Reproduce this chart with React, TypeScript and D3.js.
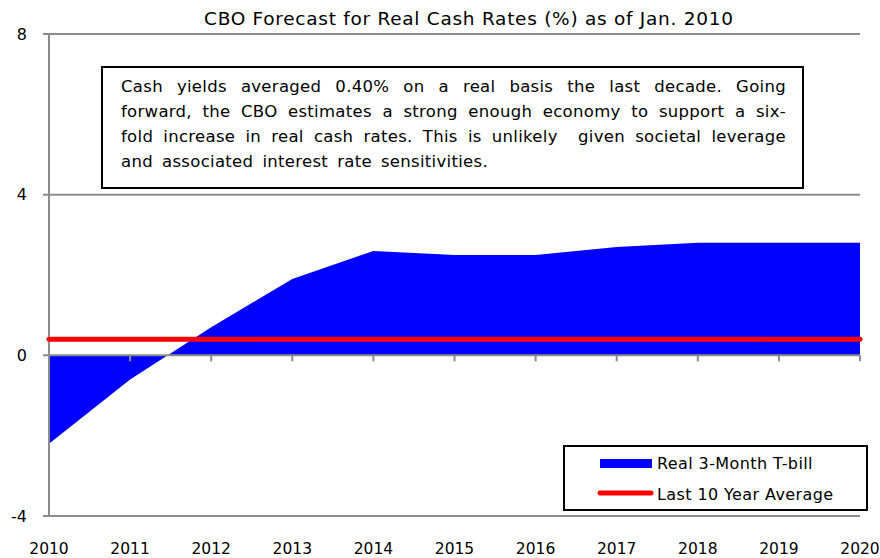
// @ts-nocheck
import React, { useEffect, useRef } from "react";
import * as d3 from "d3";

const years = ["2010", "2011", "2012", "2013", "2014", "2015", "2016", "2017", "2018", "2019", "2020"];
const tbill = [-2.2, -0.6, 0.7, 1.9, 2.6, 2.5, 2.5, 2.7, 2.8, 2.8, 2.8];
const tenYearAvg = [0.4, 0.4, 0.4, 0.4, 0.4, 0.4, 0.4, 0.4, 0.4, 0.4, 0.4];
const yTicks = [-4, 0, 4, 8];
const title = "CBO Forecast for Real Cash Rates (%) as of Jan. 2010";
const noteLines = [
  "Cash yields averaged 0.40% on a real basis the last decade. Going",
  "forward, the CBO estimates a strong enough economy to support a six-",
  "fold increase in real cash rates. This is unlikely  given societal leverage",
  "and associated interest rate sensitivities.",
];
const legendItems = ["Real 3-Month T-bill", "Last 10 Year Average"];

const FONT = "'DejaVu Sans', sans-serif";

function App() {
  const ref = useRef(null);

  useEffect(() => {
    const width = 880,
      height = 558;
    const margin = { top: 34, right: 20, bottom: 42, left: 49 };

    const svg = d3.select(ref.current);
    svg.selectAll("*").remove();

    const x = d3.scalePoint().domain(years).range([margin.left, width - margin.right]);
    const y = d3.scaleLinear().domain([-4, 8]).range([height - margin.bottom, margin.top]);

    const gray = "#8c8c8c";

    // title
    svg
      .append("text")
      .attr("x", 468.5)
      .attr("y", 25)
      .attr("text-anchor", "middle")
      .attr("textLength", 529)
      .attr("lengthAdjust", "spacing")
      .style("font-family", FONT)
      .style("font-size", "18.5px")
      .attr("fill", "#000")
      .text(title);

    // area
    const area = d3
      .area()
      .x((d, i) => x(years[i]))
      .y0(y(0))
      .y1((d) => y(d));
    svg.append("path").datum(tbill).attr("d", area).attr("fill", "#0000ff");

    // gridlines / horizontal axes
    svg
      .selectAll(".grid")
      .data(yTicks)
      .enter()
      .append("line")
      .attr("x1", margin.left - 6)
      .attr("x2", width - margin.right)
      .attr("y1", (d) => y(d))
      .attr("y2", (d) => y(d))
      .attr("stroke", gray)
      .attr("stroke-width", 2);

    // left axis
    svg
      .append("line")
      .attr("x1", margin.left)
      .attr("x2", margin.left)
      .attr("y1", y(8))
      .attr("y2", y(-4))
      .attr("stroke", gray)
      .attr("stroke-width", 2);

    // x ticks on zero line
    svg
      .selectAll(".xtick")
      .data(years)
      .enter()
      .append("line")
      .attr("x1", (d) => x(d))
      .attr("x2", (d) => x(d))
      .attr("y1", y(0))
      .attr("y2", y(0) + 6)
      .attr("stroke", gray)
      .attr("stroke-width", 2);

    // y labels
    svg
      .selectAll(".ylab")
      .data(yTicks)
      .enter()
      .append("text")
      .attr("x", 27)
      .attr("y", (d) => y(d))
      .attr("dy", "0.36em")
      .attr("text-anchor", "end")
      .style("font-family", FONT)
      .style("font-size", "16px")
      .text((d) => d);

    // x labels
    svg
      .selectAll(".xlab")
      .data(years)
      .enter()
      .append("text")
      .attr("x", (d) => x(d))
      .attr("y", 554)
      .attr("text-anchor", "middle")
      .style("font-family", FONT)
      .style("font-size", "15.5px")
      .text((d) => d);

    // average line
    const line = d3
      .line()
      .x((d, i) => x(years[i]))
      .y((d) => y(d));
    svg
      .append("path")
      .datum(tenYearAvg)
      .attr("d", line)
      .attr("fill", "none")
      .attr("stroke", "#ff0000")
      .attr("stroke-width", 5)
      .attr("stroke-linecap", "round");

    // annotation box
    const box = { x: 102, y: 67, w: 701, h: 121 };
    svg
      .append("rect")
      .attr("x", box.x)
      .attr("y", box.y)
      .attr("width", box.w)
      .attr("height", box.h)
      .attr("fill", "#fff")
      .attr("stroke", "#000")
      .attr("stroke-width", 2);

    const textLeft = 121,
      textRight = 786,
      lastWidth = 367;
    noteLines.forEach((ln, li) => {
      const words = ln.split(" ");
      const g = svg.append("g");
      const base = 92 + li * 25;
      const nodes = words.map((w) =>
        g
          .append("text")
          .attr("y", base)
          .style("font-family", FONT)
          .style("font-size", "16.5px")
          .style("letter-spacing", "0.3px")
          .text(w)
      );
      const widths = nodes.map((n) => (n.node() as any).getComputedTextLength());
      const total = d3.sum(widths);
      const gaps = words.length - 1;
      const last = li === noteLines.length - 1;
      const span = last ? lastWidth : textRight - textLeft;
      const gap = Math.max(2, (span - total) / gaps);
      let cx = textLeft;
      nodes.forEach((n, i) => {
        n.attr("x", cx);
        cx += widths[i] + gap;
      });
    });

    // legend
    const lg = svg.append("g");
    lg.append("rect")
      .attr("x", 564)
      .attr("y", 446)
      .attr("width", 303)
      .attr("height", 64)
      .attr("fill", "#fff")
      .attr("stroke", "#000")
      .attr("stroke-width", 2);
    lg.append("rect").attr("x", 600).attr("y", 459).attr("width", 52).attr("height", 9).attr("fill", "#0000ff");
    lg.append("line")
      .attr("x1", 600)
      .attr("x2", 651)
      .attr("y1", 493)
      .attr("y2", 493)
      .attr("stroke", "#ff0000")
      .attr("stroke-width", 5)
      .attr("stroke-linecap", "round");
    legendItems.forEach((t, i) => {
      lg.append("text")
        .attr("x", 657)
        .attr("y", 469 + i * 31)
        .style("font-family", FONT)
        .style("font-size", "16px")
        .style("letter-spacing", "0.4px")
        .text(t);
    });
  }, []);

  return (
    <div style={{ position: "absolute", left: 0, top: 0 }}>
      <svg ref={ref} width={880} height={558} style={{ display: "block", background: "#fff" }} />
    </div>
  );
}

export default App;
